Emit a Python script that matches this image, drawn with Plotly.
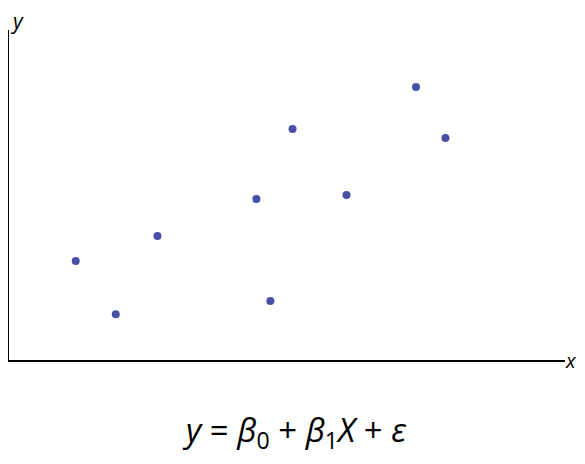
import plotly.graph_objects as go

x_vals = [1.20, 1.92, 2.67, 4.45, 4.70, 5.10, 6.07, 7.32, 7.85]
y_vals = [3.00, 1.39, 3.76, 4.88, 1.79, 7.00, 5.00, 8.27, 6.73]

fig = go.Figure()
fig.add_trace(go.Scatter(
    x=x_vals, y=y_vals, mode="markers",
    marker=dict(size=8, color="#4b4ea6"),
    hoverinfo="skip", showlegend=False,
))

axis_common = dict(showgrid=False, zeroline=False, showticklabels=False, ticks="",
                   showline=True, linecolor="black", linewidth=2, fixedrange=True)
fig.update_xaxes(range=[0, 10], **axis_common)
fig.update_yaxes(range=[0, 10], **axis_common)

fig.update_layout(
    width=585, height=464,
    margin=dict(l=1, r=28, t=22, b=112),
    plot_bgcolor="white", paper_bgcolor="white",
    font=dict(family="Open Sans, Liberation Sans, sans-serif", color="black"),
    annotations=[
        dict(text="<i>y</i>", xref="paper", yref="paper", x=0, y=1.0,
             xanchor="left", yanchor="bottom", xshift=-1, yshift=-7,
             showarrow=False, font=dict(size=21)),
        dict(text="<i>x</i>", xref="paper", yref="paper", x=1.0, y=0,
             xanchor="left", yanchor="middle", xshift=-2, yshift=0,
             showarrow=False, font=dict(size=20)),
        dict(text="<i>y</i> = <i>β</i><sub>0</sub> + <i>β</i><sub>1</sub><i>X</i> + <i>ε</i>",
             xref="paper", yref="paper", x=0.513, y=0,
             xanchor="center", yanchor="top", yshift=-45,
             showarrow=False, font=dict(size=33)),
    ],
)

fig.write_html("out.html")
